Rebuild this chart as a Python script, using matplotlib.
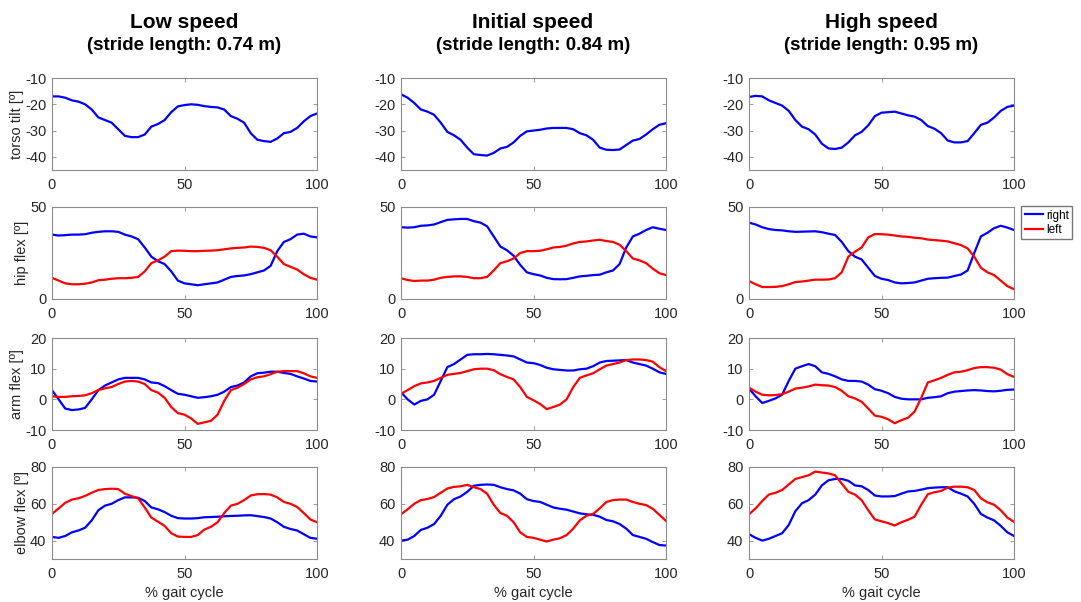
import numpy as np
import matplotlib
matplotlib.use("Agg")
import matplotlib.pyplot as plt

plt.rcParams['font.family'] = ['Liberation Sans', 'DejaVu Sans']
plt.rcParams['axes.unicode_minus'] = False

# gait cycle samples (%)
x = np.linspace(0, 100, 41)

conditions = ["Low speed", "Initial speed", "High speed"]
stride = ["0.74", "0.84", "0.95"]
ylabels = ["torso tilt [º]", "hip flex [º]", "arm flex [º]", "elbow flex [º]"]

# ---- low speed ----
torso_low = [-17, -17, -17.5, -18.5, -19, -20, -22, -25, -26, -27, -29.5, -32, -32.5, -32.5, -31.5, -28.5,
             -27.5, -26, -23, -20.8, -20.3, -20, -20.2, -20.7, -21, -21.2, -22, -24.5, -25.5, -27, -31,
             -33.5, -34, -34.3, -33, -31, -30.5, -29, -26.5, -24.5, -23.5]
hip_r_low = [35, 34.5, 34.7, 35, 35, 35.2, 36, 36.5, 36.8, 36.8, 36.5, 35, 34, 32.5, 28, 23, 20.5, 19, 15,
             10, 8.5, 8, 7.5, 8, 8.5, 9, 10.5, 12, 12.5, 12.8, 13.5, 14.5, 15.5, 18, 26, 31, 32.5, 35, 35.5,
             34, 33.5]
hip_l_low = [11.5, 10, 8.5, 8, 8, 8.3, 9, 10.2, 10.5, 11, 11.3, 11.3, 11.5, 12, 15, 19.5, 21, 23, 26, 26.3,
             26.2, 26, 26, 26.2, 26.3, 26.5, 27, 27.5, 27.8, 28, 28.5, 28.3, 27.8, 26.5, 23, 19, 17.5, 16,
             13.5, 11.5, 10.5]
arm_r_low = [3, 0, -3, -3.5, -3.3, -2.8, 0, 3, 4.5, 5.5, 6.5, 7, 7, 7, 6.5, 5.5, 5.3, 4.3, 3, 1.8, 1.5, 1,
             0.5, 0.7, 1, 1.5, 2.5, 4, 4.5, 5.5, 7.5, 8.5, 8.7, 9, 9, 8.6, 8.3, 7.5, 6.8, 6, 5.8]
arm_l_low = [1, 0.8, 0.8, 1, 1.1, 1.3, 2, 3, 3.6, 4, 5, 5.8, 6, 5.8, 5, 3, 2.2, 0.5, -2.5, -4.5, -5, -6.2,
             -8, -7.5, -7, -5, -0.5, 3, 3.8, 5, 6.5, 7.2, 7.5, 8.2, 9, 9.2, 9.2, 9.2, 8.5, 7.5, 7]
elb_r_low = [42, 41.5, 42.5, 44.5, 45.5, 47, 51, 56.5, 59, 60, 62, 63.5, 63.5, 63.3, 61.5, 58, 57, 55.5,
             53.5, 52.2, 52, 52, 52.2, 52.7, 52.8, 53, 53.2, 53.4, 53.5, 53.7, 53.8, 53.3, 52.8, 52, 50,
             47.5, 46.3, 45.5, 43.5, 41.5, 41]
elb_l_low = [54.5, 57.5, 60.5, 62.3, 63, 64.3, 66, 67.5, 68, 68.2, 68, 65.5, 64.2, 63, 58, 52.5, 50.3, 48,
             44, 42.2, 42, 42, 43, 46, 47.5, 50, 55, 59, 60, 62, 64.5, 65.2, 65.3, 65, 63.5, 61, 60, 58.3,
             55, 51.5, 50]

# ---- initial speed ----
torso_ini = [-16.2, -17.5, -19.5, -22, -22.8, -24, -27, -30.5, -31.8, -33.5, -36.5, -39, -39.3, -39.5,
             -38.5, -36.8, -36.2, -34.5, -32, -30.3, -30, -29.7, -29.2, -29, -29, -29, -29.5, -31, -31.8,
             -33.5, -36.5, -37.3, -37.4, -37.2, -35.5, -33.8, -33.2, -31.5, -29.5, -27.8, -27.2]
hip_r_ini = [39, 38.8, 39, 39.8, 40, 40.5, 41.8, 43, 43.3, 43.5, 43.5, 42.3, 41.5, 39.5, 34, 28.5, 26.5,
             23.5, 18.5, 14.5, 13.5, 12.8, 11.5, 10.8, 10.7, 10.8, 11.5, 12.3, 12.6, 13, 13.2, 14.5, 15.5,
             19, 28, 34, 35.5, 37.5, 39, 38.2, 37.5]
hip_l_ini = [11.3, 10.3, 9.8, 10, 10, 10.5, 11.5, 12, 12.3, 12.3, 12, 11.3, 11.3, 12, 15.5, 19.5, 20.5,
             22, 25, 26, 26, 26.2, 27, 28, 28.3, 29, 30.2, 31, 31.3, 31.8, 32.2, 31.5, 31, 29.5, 26, 22,
             21, 19.5, 16.5, 14, 13]
arm_r_ini = [2.3, 0, -1.7, -0.5, 0, 1.5, 6, 10.5, 11.5, 13, 14.5, 14.7, 14.7, 14.8, 14.7, 14.5, 14.3, 14,
             13, 12, 11.8, 11.2, 10.3, 9.8, 9.6, 9.4, 9.4, 9.8, 10, 10.8, 12, 12.5, 12.6, 12.7, 12.8, 12,
             11.5, 11, 10, 8.8, 8.3]
arm_l_ini = [1.8, 3, 4.3, 5.2, 5.5, 6, 7, 8, 8.3, 8.6, 9.2, 9.8, 10, 10, 9.5, 8.2, 7.3, 6.5, 4, 0.8, -0.3,
             -1.5, -3.2, -2.5, -1.7, 0, 4, 7, 7.8, 8.5, 9.8, 11, 11.5, 12, 12.8, 13, 13, 12.8, 12.3, 10.5,
             9.2]
elb_r_ini = [40, 40.5, 42.5, 45.8, 47, 49, 53.5, 59.5, 62.5, 64, 66.5, 69.8, 70.3, 70.5, 70.3, 69, 68,
             67.3, 65.5, 62.5, 61.5, 61, 59.5, 58, 57.3, 56.8, 55.8, 54.8, 54.3, 54, 53, 51.2, 50.5, 49,
             46.5, 43, 42, 41, 39.2, 37.6, 37.3]
elb_l_ini = [54.3, 57, 60, 62, 62.6, 63.7, 66, 68.3, 69.2, 69.5, 70.3, 69, 68, 65.5, 59.5, 55, 53.5, 50,
             44.5, 42, 41.5, 40.5, 39.5, 40.5, 41.3, 43, 46.5, 51, 53.5, 54.5, 57.5, 61, 62, 62.3, 62.3,
             61, 60, 59.3, 57.3, 54, 50.7]

# ---- high speed ----
torso_high = [-17.2, -16.8, -17, -18.5, -19.5, -20.5, -22.5, -26, -28.5, -29.5, -31.5, -35, -36.8, -37,
              -36.5, -34.5, -31.8, -30.5, -28, -24.5, -23.2, -23, -22.8, -23.5, -24.2, -24.7, -26, -28.3,
              -29.3, -31, -33.8, -34.5, -34.5, -34, -31, -27.8, -27, -25, -22.5, -21, -20.5]
hip_r_high = [41.5, 40.5, 39, 38, 37.5, 37.3, 36.8, 36.5, 36.6, 36.7, 36.8, 36.3, 35.5, 34.8, 31, 26, 23,
              21.5, 17, 12.5, 11, 10.3, 9, 8.5, 8.7, 9, 10, 11, 11.3, 11.5, 11.6, 12.5, 13.3, 15.5, 25, 34,
              36, 38.5, 39.8, 38.8, 37.5]
hip_l_high = [9.8, 8, 6.5, 6.5, 6.6, 7, 8, 9.2, 9.5, 10, 10.5, 10.5, 10.6, 11.3, 14.5, 23, 25.7, 28, 33.5,
              35.3, 35.2, 35, 34.5, 34, 33.8, 33.3, 33, 32.3, 32, 31.7, 31.3, 30.3, 29.3, 27.5, 23, 17,
              14.5, 13, 10, 7, 5.3]
arm_r_high = [3.5, 1, -1.2, -0.5, 0.3, 1.5, 6, 10, 10.8, 11.5, 10.8, 8.8, 8.3, 7.5, 6.5, 6, 6, 5.8, 4.8,
              3.3, 2.8, 2, 0.8, 0.2, 0, 0, 0, 0.5, 0.7, 1, 2, 2.5, 2.7, 2.9, 3, 2.9, 2.7, 2.6, 2.8, 3.1,
              3.2]
arm_l_high = [3.8, 2.5, 1.5, 1.3, 1.4, 1.7, 2.5, 3.5, 3.8, 4.2, 4.8, 4.6, 4.5, 4, 2.8, 1, 0.3, -0.8, -3,
              -5.3, -5.7, -6.5, -7.8, -6.8, -6, -4, 0.5, 5.5, 6.2, 7, 8, 8.8, 9, 9.5, 10.2, 10.5, 10.5,
              10.3, 9.7, 8.2, 7.3]
elb_r_high = [43.5, 41.5, 40, 41, 42.5, 44, 48.5, 56, 60.3, 62, 65, 70, 72.8, 73.5, 73.5, 72.5, 70, 69.5,
              67.5, 64.5, 64, 64, 64.2, 65.5, 66.7, 67, 67.7, 68.5, 68.8, 69, 69, 66.8, 65.5, 64, 60, 54.5,
              52.5, 51, 48, 44.5, 42.5]
elb_l_high = [54.3, 57.5, 61.5, 65, 66, 67.5, 70.5, 73.5, 74.5, 75.5, 77.5, 77, 76.5, 75.5, 71, 66.5, 65,
              62, 56.5, 51.5, 50.5, 49.5, 48.2, 50, 51.3, 53, 59.5, 65.2, 66.3, 67, 68.8, 69.3, 69.3, 69,
              67.5, 63, 60.8, 59.5, 56.5, 52.5, 50.2]

# rows: torso, hip, arm, elbow ; columns: low, initial, high
right = [[torso_low, torso_ini, torso_high],
         [hip_r_low, hip_r_ini, hip_r_high],
         [arm_r_low, arm_r_ini, arm_r_high],
         [elb_r_low, elb_r_ini, elb_r_high]]
left = [[None, None, None],
        [hip_l_low, hip_l_ini, hip_l_high],
        [arm_l_low, arm_l_ini, arm_l_high],
        [elb_l_low, elb_l_ini, elb_l_high]]

ylims = [(-45, -10), (0, 50), (-10, 20), (30, 80)]
yticks = [[-40, -30, -20, -10], [0, 50], [-10, 0, 10, 20], [40, 60, 80]]

W, H = 1081, 602
fig = plt.figure(figsize=(W / 100, H / 100), dpi=100)

col_left = [52, 401, 749]
col_w = 265
row_top = [78, 207, 338, 467]
row_h = 92

blue = '#0000ff'
red = '#ff0000'
axcol = '#8c8c8c'
txtcol = '#262626'
lwh = 1.6

for r in range(4):
    for c in range(3):
        ax = fig.add_axes([col_left[c] / W, 1 - (row_top[r] + row_h) / H, col_w / W, row_h / H])
        hr, = ax.plot(x, right[r][c], color=blue, lw=lwh, label='right')
        if left[r][c] is not None:
            hl, = ax.plot(x, left[r][c], color=red, lw=lwh, label='left')
        ax.set_xlim(0, 100)
        ax.set_ylim(*ylims[r])
        ax.set_xticks([0, 50, 100])
        ax.set_yticks(yticks[r])
        ax.tick_params(direction='in', top=True, right=True, length=3, width=0.6,
                       color=axcol, labelcolor=txtcol, labelsize=10.5)
        ax.tick_params(axis='x', pad=6)
        ax.tick_params(axis='y', pad=4)
        for s in ax.spines.values():
            s.set_color(axcol)
            s.set_linewidth(0.8)
        if c == 0:
            ax.set_ylabel(ylabels[r], fontsize=10.5, color=txtcol, labelpad=1)
        if r == 3:
            ax.set_xlabel('% gait cycle', fontsize=10.5, color=txtcol, labelpad=3)
        if r == 1 and c == 2:
            fig.legend(handles=[hr, hl], loc='upper left',
                       bbox_to_anchor=(1021 / W, 1 - 206 / H), fontsize=8.5,
                       handlelength=1.6, handletextpad=0.2, borderpad=0.3,
                       labelspacing=0.2, fancybox=False, edgecolor='#555555',
                       borderaxespad=0)

# column headers
centers = [184.5, 533, 881]
for c in range(3):
    fig.text(centers[c] / W, 1 - 22 / H, conditions[c], ha='center', va='center',
             fontsize=15, fontweight='bold', color='black')
    fig.text(centers[c] / W, 1 - 45 / H, '(stride length: %s m)' % stride[c], ha='center',
             va='center', fontsize=13.5, fontweight='bold', color='black')

fig.savefig('out.png', dpi=100)
